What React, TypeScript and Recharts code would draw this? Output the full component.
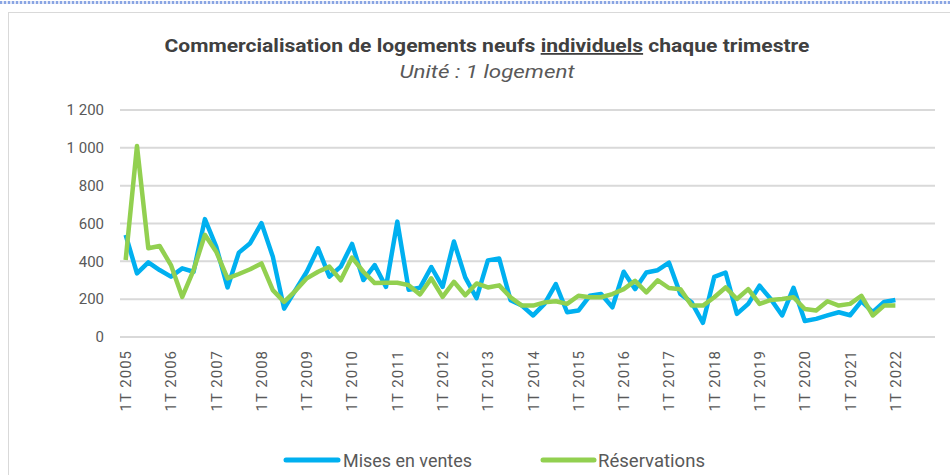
import { CartesianGrid, Line, LineChart, XAxis, YAxis } from "recharts"

const years = [
  2005, 2006, 2007, 2008, 2009, 2010, 2011, 2012, 2013, 2014, 2015, 2016, 2017, 2018, 2019, 2020, 2021, 2022,
]
const quarters = ["1T", "2T", "3T", "4T"]

// Mises en ventes, 1T 2005 -> 1T 2022
const misesEnVentes = [
  540, 336, 395, 354, 319, 363, 345, 623, 478, 262, 446, 496,
  602, 425, 150, 248, 345, 469, 319, 372, 492, 301, 380, 265,
  610, 250, 260, 370, 265, 505, 315, 205, 405, 415, 195, 166,
  114, 175, 280, 131, 140, 218, 227, 157, 345, 253, 341, 353,
  393, 227, 183, 75, 318, 341, 122, 175, 271, 200, 114, 260,
  85, 96, 114, 131, 115, 190, 131, 185, 196,
]

// Réservations, 1T 2005 -> 1T 2022
const reservations = [
  407, 1010, 469, 481, 380, 212, 354, 540, 451, 310, 333, 358,
  389, 248, 186, 244, 310, 345, 372, 300, 420, 345, 285, 287,
  287, 274, 225, 310, 212, 292, 221, 283, 262, 273, 210, 166,
  166, 183, 189, 175, 218, 210, 210, 227, 253, 297, 236, 300,
  259, 253, 166, 166, 210, 262, 201, 253, 175, 196, 201, 210,
  148, 140, 189, 166, 175, 218, 114, 166, 166,
]

const yTicks = [0, 200, 400, 600, 800, 1000, 1200]

const data = years.flatMap((year, yi) =>
  quarters.map((q, qi) => {
    const i = yi * 4 + qi
    return {
      name: `${q} ${year}`,
      mises: misesEnVentes[i] ?? null,
      resa: reservations[i] ?? null,
    }
  })
)

const BLUE = "#00b0f0"
const GREEN = "#92d050"
const TEXT = "#595959"

const formatY = (v: number) =>
  v >= 1000 ? `${Math.floor(v / 1000)} ${String(v % 1000).padStart(3, "0")}` : `${v}`

function XTick({ x, y, payload }: any) {
  return (
    <g transform={`translate(${x},${y})`}>
      <text
        transform="rotate(-90)"
        x={-2}
        dy="0.36em"
        textAnchor="end"
        fill={TEXT}
        fontSize={15}
        letterSpacing={1}
        fontFamily="Roboto"
      >
        {payload.value}
      </text>
    </g>
  )
}

export default function App() {
  return (
    <div
      style={{
        position: "fixed",
        left: 0,
        top: 0,
        width: 950,
        height: 475,
        background: "#fff",
        overflow: "hidden",
        fontFamily: "Roboto",
      }}
    >
      <div
        style={{
          position: "absolute",
          left: 0,
          top: 1,
          width: 950,
          height: 3,
          backgroundImage: "repeating-linear-gradient(90deg, #8aa5e3 0 2px, #dfe6f7 2px 4px)",
        }}
      />
      <div
        style={{
          position: "absolute",
          left: 8,
          top: 12,
          width: 980,
          height: 500,
          border: "1px solid #d9d9d9",
        }}
      />
      <div style={{ position: "absolute", left: 0, top: 0 }}>
        <LineChart width={950} height={475} data={data} margin={{ top: 110, right: 15, left: 0, bottom: 0 }}>
          <CartesianGrid vertical={false} stroke="#d9d9d9" strokeWidth={2} />
          <XAxis
            dataKey="name"
            interval={3}
            height={138}
            axisLine={false}
            tickLine={false}
            tickMargin={5}
            padding={{ left: 5.66, right: 5.66 }}
            tick={<XTick />}
          />
          <YAxis
            width={120}
            domain={[0, 1200]}
            ticks={yTicks}
            axisLine={false}
            tickLine={false}
            tickMargin={10}
            tickFormatter={formatY}
            tick={{ fill: TEXT, fontSize: 15, fontFamily: "Roboto" }}
          />
          <Line
            type="linear"
            dataKey="mises"
            stroke={BLUE}
            strokeWidth={4.5}
            strokeLinejoin="round"
            dot={false}
            activeDot={false}
            isAnimationActive={false}
          />
          <Line
            type="linear"
            dataKey="resa"
            stroke={GREEN}
            strokeWidth={4.5}
            strokeLinejoin="round"
            dot={false}
            activeDot={false}
            isAnimationActive={false}
          />
        </LineChart>
      </div>
      <svg
        width={950}
        height={475}
        style={{ position: "absolute", left: 0, top: 0, pointerEvents: "none" }}
      >
        <text
          x={487}
          y={52}
          textAnchor="middle"
          fontFamily="Roboto"
          fontWeight="bold"
          fontSize={18}
          fill="#404040"
          textLength={645}
          lengthAdjust="spacingAndGlyphs"
        >
          Commercialisation de logements neufs{" "}
          <tspan style={{ textDecoration: "underline" }}>individuels</tspan> chaque trimestre
        </text>
        <text
          x={487}
          y={78}
          textAnchor="middle"
          fontFamily="Roboto"
          fontStyle="italic"
          fontSize={18}
          fill={TEXT}
          textLength={175}
          lengthAdjust="spacingAndGlyphs"
        >
          Unité : 1 logement
        </text>
        <line x1={286} y1={460} x2={338} y2={460} stroke={BLUE} strokeWidth={5} strokeLinecap="round" />
        <text
          x={343}
          y={467}
          fontFamily="Roboto"
          fontSize={18}
          fill={TEXT}
          textLength={129}
          lengthAdjust="spacingAndGlyphs"
        >
          Mises en ventes
        </text>
        <line x1={543} y1={460} x2={594} y2={460} stroke={GREEN} strokeWidth={5} strokeLinecap="round" />
        <text
          x={598}
          y={467}
          fontFamily="Roboto"
          fontSize={18}
          fill={TEXT}
          textLength={107}
          lengthAdjust="spacingAndGlyphs"
        >
          Réservations
        </text>
      </svg>
    </div>
  )
}
